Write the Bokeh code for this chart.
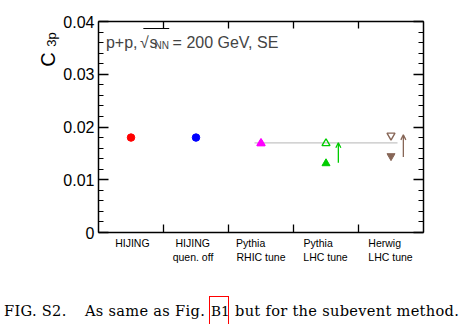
from bokeh.plotting import figure
from bokeh.layouts import column
from bokeh.models import (Range1d, LinearAxis, FixedTicker, CustomJSTickFormatter,
                          Label, Arrow, OpenHead, ColumnDataSource, Div)
from bokeh.embed import file_html
from bokeh.resources import INLINE

# ---------------- data ----------------
cat_line1 = ["HIJING", "HIJING", "Pythia", "Pythia", "Herwig"]
cat_line2 = ["", "quen. off", "RHIC tune", "LHC tune", "LHC tune"]
cat_index = [0, 1, 2, 3, 4]

circle_cat = [0, 1]
circle_val = [0.0180, 0.0180]
circle_col = ["#ff0000", "#0000ff"]

tri_up_cat = [2, 3]
tri_up_filled = [0.0169, 0.0131]
tri_up_open = [0.0169, 0.0169]
tri_up_col = ["#ff00ff", "#00cc00"]

herwig_cat = [4]
herwig_filled = [0.0145]
herwig_open = [0.0184]
herwig_col = ["#876657"]

arrow_cat = [3, 4]
arrow_from = [0.0132, 0.0143]
arrow_to = [0.0170, 0.0185]
arrow_col = ["#00cc00", "#876657"]

ref_level = 0.0170
ref_first_cat, ref_last_cat = 2, 4

y_ticks = [0, 0.01, 0.02, 0.03, 0.04]
x_bounds = [1, 2, 3, 4]

y_title_main = "C"
y_title_sub = "3p"
caption_parts = ["FIG. S2.", "As same as Fig.", "B1", "but for the subevent method."]

# ---------------- figure ----------------
FONT = "Liberation Sans"
p = figure(width=461, height=285, x_range=Range1d(0, 5), y_range=Range1d(0, 0.04),
           output_backend="svg", toolbar_location=None,
           min_border_left=98, min_border_right=38, min_border_top=21, min_border_bottom=53)
p.outline_line_color = None
p.xgrid.visible = False
p.ygrid.visible = False
p.background_fill_color = "white"
p.border_fill_color = "white"

minor = [i * 0.002 for i in range(21)]
blank = CustomJSTickFormatter(code="return '';")

def style_axis(ax, ticks, minor_ticks, major_len, labels=False):
    ax.ticker = FixedTicker(ticks=ticks, minor_ticks=minor_ticks)
    ax.major_tick_in = major_len
    ax.major_tick_out = 0
    ax.minor_tick_in = 5
    ax.minor_tick_out = 0
    ax.axis_line_width = 1.5
    ax.major_tick_line_width = 1.3
    ax.minor_tick_line_width = 1.1
    ax.axis_line_color = "black"
    ax.major_tick_line_color = "black"
    ax.minor_tick_line_color = "black"
    if not labels:
        ax.formatter = blank

def bare_axis(ax):
    ax.axis_line_color = None
    ax.major_tick_line_color = None
    ax.minor_tick_line_color = None
    ax.major_tick_in = 0
    ax.major_tick_out = 0
    ax.minor_tick_in = 0
    ax.minor_tick_out = 0
    ax.major_label_text_color = "black"
    ax.major_label_text_font = FONT

yl = p.left[0]
xb = p.below[0]

style_axis(yl, y_ticks, minor, 10, labels=True)
yl.formatter = CustomJSTickFormatter(code="return tick == 0 ? '0' : tick.toFixed(2);")
yl.major_label_text_font = FONT
yl.major_label_text_font_size = "16px"
yl.major_label_text_color = "black"
yl.major_label_standoff = 4

yr = LinearAxis()
style_axis(yr, y_ticks, minor, 10)
p.add_layout(yr, "right")

xt = LinearAxis()
style_axis(xt, x_bounds, [], 7)
p.add_layout(xt, "above")

# y-axis title drawn as rotated tick labels of two bare extra axes
ax_sub = LinearAxis(ticker=FixedTicker(ticks=[0.0366], minor_ticks=[]),
                    formatter=CustomJSTickFormatter(args=dict(t=y_title_sub), code="return t;"))
bare_axis(ax_sub)
ax_sub.major_label_orientation = "vertical"
ax_sub.major_label_text_font_size = "13px"
ax_sub.major_label_standoff = 1
p.add_layout(ax_sub, "left")

ax_main = LinearAxis(ticker=FixedTicker(ticks=[0.0328], minor_ticks=[]),
                     formatter=CustomJSTickFormatter(args=dict(t=y_title_main), code="return t;"))
bare_axis(ax_main)
ax_main.major_label_orientation = "vertical"
ax_main.major_label_text_font_size = "20px"
ax_main.major_label_standoff = -18
p.add_layout(ax_main, "left")

# bottom axis: category boundaries as minor ticks, first label line as major labels
line1_shift = [1.4, -3.3, -10.3, -7.8, -6.3]   # px, label centre relative to category centre
line2_shift = [0.0, -3.0, 0.0, -0.5, -0.5]
pos1 = [i + 0.5 + line1_shift[i] / 65.0 for i in cat_index]
pos2 = [i + 0.5 + line2_shift[i] / 65.0 for i in cat_index]

xb.ticker = FixedTicker(ticks=pos1, minor_ticks=x_bounds)
xb.major_tick_in = 0
xb.major_tick_out = 0
xb.major_tick_line_color = None
xb.minor_tick_in = 8
xb.minor_tick_out = 0
xb.minor_tick_line_width = 1.3
xb.minor_tick_line_color = "black"
xb.axis_line_width = 1.5
xb.axis_line_color = "black"
xb.formatter = CustomJSTickFormatter(args=dict(labels=cat_line1), code="return labels[index];")
xb.major_label_text_font = FONT
xb.major_label_text_font_size = "10.5px"
xb.major_label_text_color = "black"
xb.major_label_standoff = 4

xb2 = LinearAxis(ticker=FixedTicker(ticks=pos2, minor_ticks=[]),
                 formatter=CustomJSTickFormatter(args=dict(labels=cat_line2), code="return labels[index];"))
bare_axis(xb2)
xb2.major_label_text_font_size = "10.5px"
xb2.major_label_standoff = -1
p.add_layout(xb2, "below")

# reference line
p.line([ref_first_cat + 0.4, ref_last_cat + 0.6], [ref_level, ref_level],
       line_color="#c4c4c4", line_width=1.2)

# markers
src_c = ColumnDataSource(dict(x=[c + 0.5 for c in circle_cat], y=circle_val, col=circle_col))
p.scatter("x", "y", source=src_c, marker="circle", size=7.5, fill_color="col", line_color="col")

src_t = ColumnDataSource(dict(x=[c + 0.5 for c in tri_up_cat], yf=tri_up_filled,
                              yo=tri_up_open, col=tri_up_col))
p.scatter("x", "yf", source=src_t, marker="triangle", size=8, fill_color="col", line_color="col")
p.scatter("x", "yo", source=src_t, marker="triangle", size=8, fill_color=None,
          line_color="col", line_width=1.4)

src_h = ColumnDataSource(dict(x=[c + 0.5 for c in herwig_cat], yf=herwig_filled,
                              yo=herwig_open, col=herwig_col))
p.scatter("x", "yf", source=src_h, marker="inverted_triangle", size=8, fill_color="col", line_color="col")
p.scatter("x", "yo", source=src_h, marker="inverted_triangle", size=8, fill_color=None,
          line_color="col", line_width=1.4)

for c, y0, y1, col in zip(arrow_cat, arrow_from, arrow_to, arrow_col):
    p.add_layout(Arrow(x_start=c + 0.69, y_start=y0, x_end=c + 0.69, y_end=y1,
                       line_color=col, line_width=1.3,
                       end=OpenHead(size=5, line_color=col, line_width=1.3)))

# annotation text inside the frame
base = 0.03601
for txt, xx, yy, fs in (("p+p,", 0.115, base, "16px"),
                        ("\u221a", 0.640, base, "16px"),
                        ("s", 0.785, base, "16px"),
                        ("NN", 0.862, 0.03537, "10px"),
                        ("= 200 GeV, SE", 1.14, base, "16px")):
    p.add_layout(Label(x=xx, y=yy, text=txt, text_font=FONT, text_font_size=fs,
                       text_align="left", text_baseline="alphabetic"))
p.segment(x0=[0.69], y0=[0.03867], x1=[1.088], y1=[0.03867], line_color="black", line_width=1)

# caption below the chart
cap_left = [4, 85, 211.0, 235.0]
cap_style = ["", "", "font-size:13.6px;letter-spacing:0;top:19.3px;", ""]
spans = "".join(
    f'<span style="position:absolute;left:{x}px;top:18.6px;{s}">{t}</span>'
    for t, x, s in zip(caption_parts, cap_left, cap_style))
box = ('<div style="position:absolute;left:209.3px;top:10.7px;width:19.4px;height:40px;'
       'border:1.5px solid #ff0000"></div>')
cap = Div(text=('<div style="position:relative;width:461px;height:39px;overflow:hidden;'
                "font-family:'DejaVu Serif';font-size:14.6px;line-height:14.6px;"
                'letter-spacing:0.3px;color:#000;white-space:nowrap">' + spans + box + '</div>'),
          width=461, height=39, margin=0)

layout = column(p, cap, spacing=0)
open("out.html", "w").write(file_html(layout, INLINE))
